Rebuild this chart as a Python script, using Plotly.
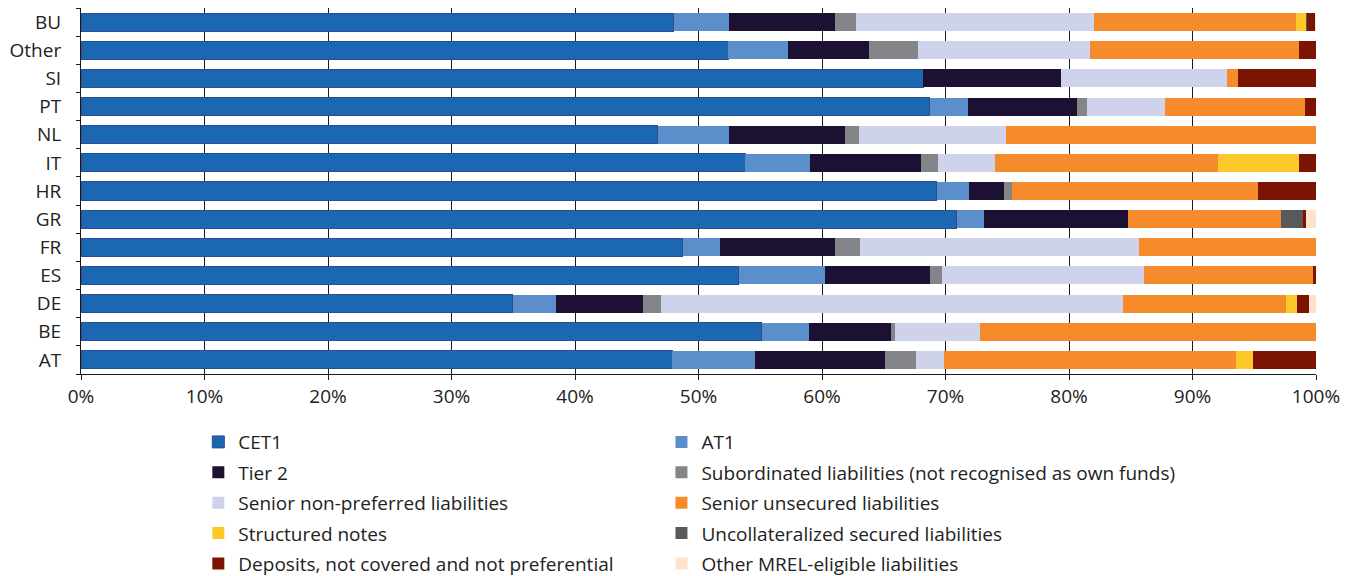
import plotly.graph_objects as go

# countries, bottom to top
countries = ["AT", "BE", "DE", "ES", "FR", "GR", "HR", "IT", "NL", "PT", "SI", "Other", "BU"]

# shares of MREL-eligible instruments (%), same order as countries
cet1 = [47.86, 55.11, 34.97, 53.26, 48.72, 70.90, 69.31, 53.77, 46.72, 68.73, 68.20, 52.40, 48.00]
at1 = [6.74, 3.84, 3.47, 6.99, 3.02, 2.22, 2.61, 5.25, 5.74, 3.08, 0.00, 4.85, 4.46]
tier2 = [10.51, 6.63, 7.06, 8.48, 9.31, 11.66, 2.83, 8.98, 9.42, 8.84, 11.15, 6.55, 8.60]
subordinated = [2.50, 0.36, 1.48, 0.98, 2.03, 0.00, 0.65, 1.38, 1.12, 0.80, 0.00, 4.00, 1.70]
senior_non_pref = [2.29, 6.85, 37.40, 16.34, 22.57, 0.00, 0.00, 4.64, 11.89, 6.30, 13.45, 13.90, 19.30]
senior_unsecured = [23.60, 27.21, 13.19, 13.73, 14.35, 12.36, 19.89, 18.05, 25.11, 11.35, 0.86, 16.90, 16.30]
structured_notes = [1.37, 0.00, 0.87, 0.00, 0.00, 0.00, 0.00, 6.55, 0.00, 0.00, 0.00, 0.00, 0.87]
uncollateralized = [0.00, 0.00, 0.00, 0.00, 0.00, 1.81, 0.00, 0.00, 0.00, 0.00, 0.00, 0.00, 0.05]
deposits = [5.13, 0.00, 0.98, 0.22, 0.00, 0.22, 4.71, 1.38, 0.00, 0.90, 6.34, 1.40, 0.60]
other_mrel = [0.00, 0.00, 0.58, 0.00, 0.00, 0.83, 0.00, 0.00, 0.00, 0.00, 0.00, 0.00, 0.20]

x_ticks = [0, 10, 20, 30, 40, 50, 60, 70, 80, 90, 100]

# name, values, colour, which legend column
series = [
    ("CET1", cet1, "#1c67b1", "legend"),
    ("AT1", at1, "#5b8fcb", "legend2"),
    ("Tier 2", tier2, "#1c1033", "legend"),
    ("Subordinated liabilities (not recognised as own funds)", subordinated, "#848589", "legend2"),
    ("Senior non-preferred liabilities", senior_non_pref, "#ced3eb", "legend"),
    ("Senior unsecured liabilities", senior_unsecured, "#f58b2a", "legend2"),
    ("Structured notes", structured_notes, "#fdc82a", "legend"),
    ("Uncollateralized secured liabilities", uncollateralized, "#58595b", "legend2"),
    ("Deposits, not covered and not preferential", deposits, "#7b1402", "legend"),
    ("Other MREL-eligible liabilities", other_mrel, "#fde3cd", "legend2"),
]

fig = go.Figure()
for name, vals, color, leg in series:
    line = dict(width=1, color="#2b4f8e") if name == "CET1" else dict(width=0)
    fig.add_trace(go.Bar(
        y=countries, x=vals, name=name, orientation="h",
        marker=dict(color=color, line=line),
        legend=leg, legendgroup=name,
    ))

legend_style = dict(
    orientation="v", xanchor="left", yanchor="top",
    font=dict(size=19), tracegroupgap=2.7, traceorder="grouped",
    bgcolor="rgba(0,0,0,0)",
)

# the page body adds an 8px offset, so the figure is 8px smaller each way
fig.update_layout(
    barmode="stack",
    bargap=0.36,
    width=1344, height=568,
    margin=dict(l=73, r=36, t=0, b=202, autoexpand=False),
    plot_bgcolor="white",
    paper_bgcolor="white",
    font=dict(family="Open Sans", size=19, color="#222222"),
    legend=dict(x=0.095, y=-0.134, **legend_style),
    legend2=dict(x=0.470, y=-0.134, **legend_style),
)
fig.update_xaxes(
    range=[0, 100],
    tickvals=x_ticks,
    ticktext=[f"{t}%" for t in x_ticks],
    showgrid=True, gridcolor="#1a1a1a", gridwidth=1,
    showline=True, linecolor="#1a1a1a", linewidth=1,
    ticks="outside", ticklen=5, tickcolor="#1a1a1a",
    zeroline=False, automargin=False,
)
fig.update_yaxes(
    showline=True, linecolor="#1a1a1a", linewidth=1,
    ticks="outside", ticklen=4, tickcolor="#1a1a1a",
    tickson="boundaries", automargin=False, ticklabelstandoff=15,
    range=[-0.5, len(countries) - 0.5],
)

fig.write_html("out.html")
